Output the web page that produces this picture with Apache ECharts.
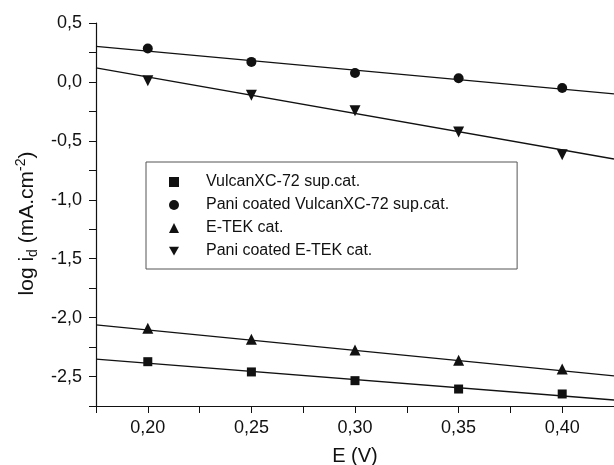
<!DOCTYPE html>
<html lang="en">
<head>
  <meta charset="UTF-8">
  <title>log id vs E</title>
  <script src="https://cdn.jsdelivr.net/npm/echarts@6/dist/echarts.min.js"></script>
  <style>
    html, body { margin: 0; padding: 0; background: #fff; }
    #main { width: 614px; height: 465px; }
  </style>
</head>
<body>
  <div id="main"></div>
  <script>
    // measured points
    var potentials = [0.20, 0.25, 0.30, 0.35, 0.40]
    var vulcan = [-2.374, -2.461, -2.535, -2.606, -2.648]
    var paniVulcan = [0.283, 0.170, 0.076, 0.031, -0.051]
    var etek = [-2.090, -2.184, -2.274, -2.362, -2.436]
    var paniEtek = [0.011, -0.114, -0.244, -0.425, -0.618]

    // linear fits, ends of the plotted range
    var fitX = [0.175, 0.425]
    var fitVulcan = [-2.353, -2.699]
    var fitPaniVulcan = [0.302, -0.102]
    var fitEtek = [-2.062, -2.495]
    var fitPaniEtek = [0.119, -0.654]

    var names = ['VulcanXC-72 sup.cat.', 'Pani coated VulcanXC-72 sup.cat.', 'E-TEK cat.', 'Pani coated E-TEK cat.']

    var ink = '#111'
    var font = "'Liberation Sans', Arial, sans-serif"

    function pairs(xs, ys) {
      return xs.map(function (x, i) { return [x, ys[i]] })
    }

    function pointSeries(name, ys, symbol, size, rotate) {
      return {
        name: name,
        type: 'scatter',
        data: pairs(potentials, ys),
        symbol: symbol,
        symbolSize: size,
        symbolRotate: rotate || 0,
        itemStyle: { color: ink, opacity: 1 },
        z: 3
      }
    }

    function fitSeries(ys) {
      return {
        type: 'line',
        data: pairs(fitX, ys),
        showSymbol: false,
        silent: true,
        lineStyle: { color: ink, width: 1.3 },
        z: 2
      }
    }

    var mCharts = echarts.init(document.getElementById('main'))
    var option = {
      animation: false,
      textStyle: { fontFamily: font },
      grid: { left: 96, right: 0, top: 23, bottom: 59, containLabel: false, outerBoundsMode: 'none' },
      legend: {
        orient: 'vertical',
        left: 146,
        top: 162,
        padding: [12, 68, 10, 23],
        itemWidth: 10,
        itemHeight: 10,
        itemGap: 7,
        borderColor: '#555',
        borderWidth: 1,
        selectedMode: false,
        itemStyle: { opacity: 1 },
        textStyle: { fontSize: 16, color: ink, lineHeight: 16, padding: [0, 0, 0, 22] },
        data: [
          { name: names[0], icon: 'rect' },
          { name: names[1], icon: 'circle' },
          { name: names[2], icon: 'triangle' },
          { name: names[3], icon: 'path://M0,0L2,0L1,1.75Z' }
        ]
      },
      xAxis: {
        type: 'value',
        min: 0.175,
        max: 0.425,
        interval: 0.025,
        name: 'E (V)',
        nameLocation: 'middle',
        nameGap: 40,
        nameTextStyle: { fontSize: 20, color: ink },
        splitLine: { show: false },
        axisLine: { onZero: false, lineStyle: { color: ink, width: 1.2 } },
        axisTick: { inside: false, length: 7, lineStyle: { color: ink } },
        axisLabel: {
          color: ink,
          fontSize: 18,
          margin: 13,
          showMinLabel: true,
          showMaxLabel: true,
          formatter: function (v) {
            var k = Math.round(v * 1000)
            if (k % 50 !== 0) return ''
            return v.toFixed(2).replace('.', ',')
          }
        }
      },
      yAxis: {
        type: 'value',
        min: -2.75,
        max: 0.5,
        interval: 0.25,
        name: '{a|log i}{sub|d}{a| (mA.cm}{sup|-2}{a|)}',
        nameLocation: 'middle',
        nameGap: 56,
        nameTextStyle: {
          color: ink,
          padding: [0, 18, 0, 0],
          rich: {
            a: { fontSize: 21, color: ink, lineHeight: 26, verticalAlign: 'middle' },
            sub: { fontSize: 14, color: ink, lineHeight: 13, verticalAlign: 'bottom' },
            sup: { fontSize: 14, color: ink, lineHeight: 13, verticalAlign: 'top' }
          }
        },
        splitLine: { show: false },
        axisLine: { show: true, onZero: false, lineStyle: { color: ink, width: 1.2 } },
        axisTick: { show: true, inside: false, length: 7, lineStyle: { color: ink } },
        axisLabel: {
          color: ink,
          fontSize: 18,
          margin: 14,
          showMinLabel: true,
          showMaxLabel: true,
          formatter: function (v) {
            var k = Math.round(v * 100)
            if (k % 50 !== 0) return ''
            return v.toFixed(1).replace('.', ',')
          }
        }
      },
      series: [
        fitSeries(fitVulcan),
        fitSeries(fitPaniVulcan),
        fitSeries(fitEtek),
        fitSeries(fitPaniEtek),
        pointSeries(names[0], vulcan, 'rect', 9),
        pointSeries(names[1], paniVulcan, 'circle', 10),
        pointSeries(names[2], etek, 'triangle', 11),
        pointSeries(names[3], paniEtek, 'triangle', 11, 180)
      ]
    }
    mCharts.setOption(option)
  </script>
</body>
</html>
